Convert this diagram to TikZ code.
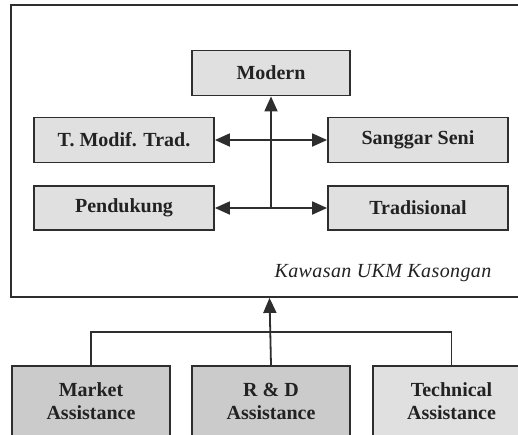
\documentclass[tikz,border=0pt]{standalone}
\usepackage{fontspec}
\setmainfont{Liberation Serif}
\usetikzlibrary{arrows.meta}
\definecolor{boxfill}{HTML}{E0E0E0}
\definecolor{darkfill}{HTML}{CBCBCB}
\definecolor{linec}{HTML}{2E2E2E}
\definecolor{textc}{HTML}{222222}
\begin{document}
\begin{tikzpicture}[x=1pt,y=-1pt,
  boxnode/.style={draw=linec, line width=1.8pt, fill=boxfill, rectangle, inner sep=0pt,
    text=textc, font=\fontsize{20}{24}\selectfont\bfseries, align=center},
  conn/.style={draw=linec, line width=1.8pt},
  tip/.style={-{Triangle[length=15pt,width=13pt]}},
  dtip/.style={{Triangle[length=15pt,width=13pt]}-{Triangle[length=15pt,width=13pt]}}]
\clip (0,0) rectangle (518,434);
\fill[white] (0,0) rectangle (518,434);
% outer frame
\node[draw=linec, line width=1.8pt, rectangle, inner sep=0pt, minimum width=517pt, minimum height=292pt] (outer) at (269.5,151) {};
\node[text=textc, font=\fontsize{20}{22}\selectfont\itshape] (kaw) at (383,273) {\addfontfeatures{LetterSpace=2}Kawasan UKM Kasongan};
% upper boxes
\node[boxnode, minimum width=158pt, minimum height=45pt] (modern) at (271,73) {Modern};
\node[boxnode, minimum width=180pt, minimum height=45pt] (tmod) at (124,140) {T. Modif. Trad.};
\node[boxnode, minimum width=180pt, minimum height=45pt] (sang) at (418,140) {Sanggar Seni};
\node[boxnode, minimum width=180pt, minimum height=44pt] (pend) at (124,208) {Pendukung};
\node[boxnode, minimum width=180pt, minimum height=44pt] (trad) at (418,208) {Tradisional};
\coordinate (j1) at (271,208);
\draw[conn, tip] (j1) -- (modern.south);
\draw[conn, dtip] (tmod.east) -- (sang.west);
\draw[conn, dtip] (pend.east) -- (trad.west);
% lower boxes
\node[boxnode, fill=darkfill, minimum width=158pt, minimum height=70pt] (market) at (91,401) {Market\\[-1pt]Assistance};
\node[boxnode, fill=darkfill, minimum width=158pt, minimum height=70pt] (rd) at (271,401) {R \& D\\[-1pt]Assistance};
\node[boxnode, minimum width=157pt, minimum height=70pt] (tech) at (451.5,401) {Technical\\[-1pt]Assistance};
\coordinate (h) at (271,332);
\draw[conn] (market.north) |- (h) -| (tech.north);
\draw[conn, tip] (rd.north) -- (outer.south);
\end{tikzpicture}
\end{document}
